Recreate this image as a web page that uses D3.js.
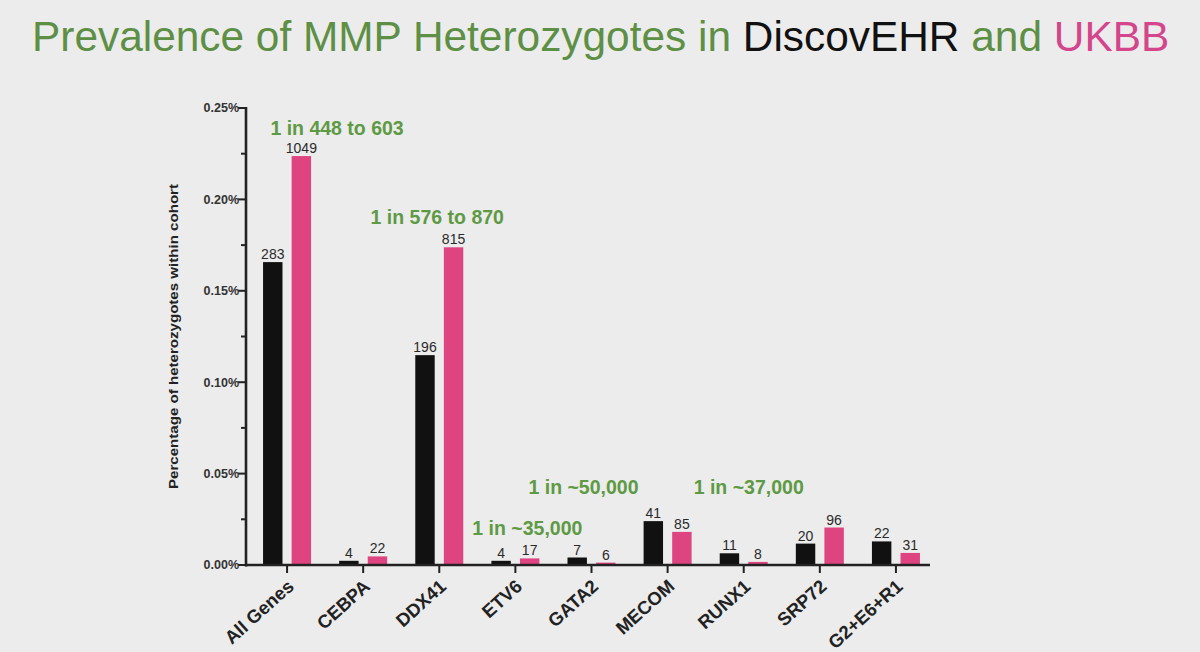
<!DOCTYPE html>
<html>
<head>
<meta charset="utf-8">
<script src="https://cdn.jsdelivr.net/npm/d3@7"></script>
<style>
  html, body { margin: 0; padding: 0; background: #ececec; }
  svg { display: block; font-family: "Liberation Sans", Arial, sans-serif; }
</style>
</head>
<body>
<div id="chart"></div>
<script>
// categories and series (percent of cohort)
const genes = ["All Genes", "CEBPA", "DDX41", "ETV6", "GATA2", "MECOM", "RUNX1", "SRP72", "G2+E6+R1"];
const cohorts = ["DiscovEHR", "UKBB"];
const discovPct = [0.1657, 0.0023, 0.1148, 0.0023, 0.0041, 0.0240, 0.0064, 0.0117, 0.0129];
const ukbbPct = [0.2237, 0.0047, 0.1738, 0.0036, 0.0013, 0.0181, 0.0017, 0.0205, 0.0066];
const discovCounts = [283, 4, 196, 4, 7, 41, 11, 20, 22];
const ukbbCounts = [1049, 22, 815, 17, 6, 85, 8, 96, 31];
const yTicks = [0, 0.05, 0.10, 0.15, 0.20, 0.25];
const yMinorTicks = [0.025, 0.075, 0.125, 0.175, 0.225];

// "1 in ..." notes: gene it sits over, value height of its baseline, x shift
const notes = [
  { text: "1 in 448 to 603", gene: "All Genes", at: 0.2350, dx: 50 },
  { text: "1 in 576 to 870", gene: "DDX41", at: 0.1865, dx: -2 },
  { text: "1 in ~35,000", gene: "ETV6", at: 0.0164, dx: 12 },
  { text: "1 in ~50,000", gene: "GATA2", at: 0.0388, dx: -8 },
  { text: "1 in ~37,000", gene: "RUNX1", at: 0.0388, dx: 5 },
];

const colors = { DiscovEHR: "#111111", UKBB: "#de4480" };
const green = "#5e9a44";

const width = 1200, height = 652;
const margin = { top: 108, right: 266, bottom: 87, left: 249 };

const data = genes.map((g, i) => ({
  gene: g,
  values: [
    { cohort: "DiscovEHR", pct: discovPct[i], n: discovCounts[i] },
    { cohort: "UKBB", pct: ukbbPct[i], n: ukbbCounts[i] },
  ],
}));

const svg = d3.select("#chart").append("svg")
  .attr("width", width)
  .attr("height", height)
  .attr("viewBox", [0, 0, width, height]);

svg.append("rect").attr("width", width).attr("height", height).attr("fill", "#ececec");

// title with coloured words
const title = svg.append("text")
  .attr("x", 32)
  .attr("y", 51)
  .attr("font-size", 42.4)
  .attr("fill", "#5d8f45");
title.append("tspan").text("Prevalence of MMP Heterozygotes in ");
title.append("tspan").attr("fill", "#111").text("DiscovEHR");
title.append("tspan").text(" and ");
title.append("tspan").attr("fill", "#d4468c").text("UKBB");

const x = d3.scaleBand()
  .domain(genes)
  .range([margin.left, width - margin.right]);

const xInner = d3.scaleBand()
  .domain(cohorts)
  .range([-24, 24])
  .paddingInner(0.32);

const y = d3.scaleLinear()
  .domain([0, 0.25])
  .range([height - margin.bottom, margin.top]);

const axisX0 = 246, axisX1 = 930;
const y0 = y(0);

// bars
const group = svg.append("g")
  .selectAll("g")
  .data(data)
  .join("g")
  .attr("transform", (d) => `translate(${x(d.gene) + x.bandwidth() / 2},0)`);

group.selectAll("rect")
  .data((d) => d.values)
  .join("rect")
  .attr("x", (d) => xInner(d.cohort))
  .attr("width", xInner.bandwidth())
  .attr("y", (d) => y(d.pct))
  .attr("height", (d) => y0 - y(d.pct))
  .attr("fill", (d) => colors[d.cohort]);

group.selectAll("text.count")
  .data((d) => d.values)
  .join("text")
  .attr("class", "count")
  .attr("x", (d) => xInner(d.cohort) + xInner.bandwidth() / 2)
  .attr("y", (d) => y(d.pct) - 3)
  .attr("text-anchor", "middle")
  .attr("font-size", 14)
  .attr("fill", "#2a2a2a")
  .text((d) => d.n);

// y axis
const yAxis = svg.append("g").attr("transform", `translate(${axisX0},0)`);
yAxis.append("line")
  .attr("y1", y(0.25) - 1).attr("y2", y0 + 1.5)
  .attr("stroke", "#222").attr("stroke-width", 2.6);
yAxis.selectAll("line.major")
  .data(yTicks)
  .join("line")
  .attr("class", "major")
  .attr("x1", -8).attr("x2", 0)
  .attr("y1", (d) => y(d)).attr("y2", (d) => y(d))
  .attr("stroke", "#222").attr("stroke-width", 2);
yAxis.selectAll("line.minor")
  .data(yMinorTicks)
  .join("line")
  .attr("class", "minor")
  .attr("x1", -5).attr("x2", 0)
  .attr("y1", (d) => y(d)).attr("y2", (d) => y(d))
  .attr("stroke", "#222").attr("stroke-width", 2);
yAxis.selectAll("text")
  .data(yTicks)
  .join("text")
  .attr("x", -7)
  .attr("y", (d) => y(d))
  .attr("dy", "0.35em")
  .attr("text-anchor", "end")
  .attr("font-size", 12.5)
  .attr("font-weight", "bold")
  .attr("fill", "#333")
  .text((d) => d.toFixed(2) + "%");

svg.append("text")
  .attr("transform", `translate(178,${(y(0.25) + y0) / 2}) rotate(-90)`)
  .attr("text-anchor", "middle")
  .attr("font-size", 13)
  .attr("font-weight", "bold")
  .attr("fill", "#222")
  .attr("textLength", 305)
  .attr("lengthAdjust", "spacingAndGlyphs")
  .text("Percentage of heterozygotes within cohort");

// x axis
const xAxis = svg.append("g").attr("transform", `translate(0,${y0})`);
xAxis.append("line")
  .attr("x1", axisX0 - 1).attr("x2", axisX1)
  .attr("stroke", "#222").attr("stroke-width", 2.6);
xAxis.selectAll("line.tick")
  .data(genes)
  .join("line")
  .attr("class", "tick")
  .attr("x1", (d) => x(d) + x.bandwidth() / 2)
  .attr("x2", (d) => x(d) + x.bandwidth() / 2)
  .attr("y1", 0).attr("y2", 8)
  .attr("stroke", "#222").attr("stroke-width", 2);
xAxis.selectAll("text")
  .data(genes)
  .join("text")
  .attr("transform", (d) => `translate(${x(d) + x.bandwidth() / 2 + 8},${23}) rotate(-42)`)
  .attr("text-anchor", "end")
  .attr("font-size", 18.5)
  .attr("font-weight", "bold")
  .attr("fill", "#222")
  .text((d) => d);

// green notes
svg.append("g")
  .selectAll("text")
  .data(notes)
  .join("text")
  .attr("x", (d) => x(d.gene) + x.bandwidth() / 2 + d.dx)
  .attr("y", (d) => y(d.at))
  .attr("text-anchor", "middle")
  .attr("font-size", 19.5)
  .attr("font-weight", "bold")
  .attr("fill", green)
  .text((d) => d.text);
</script>
</body>
</html>
